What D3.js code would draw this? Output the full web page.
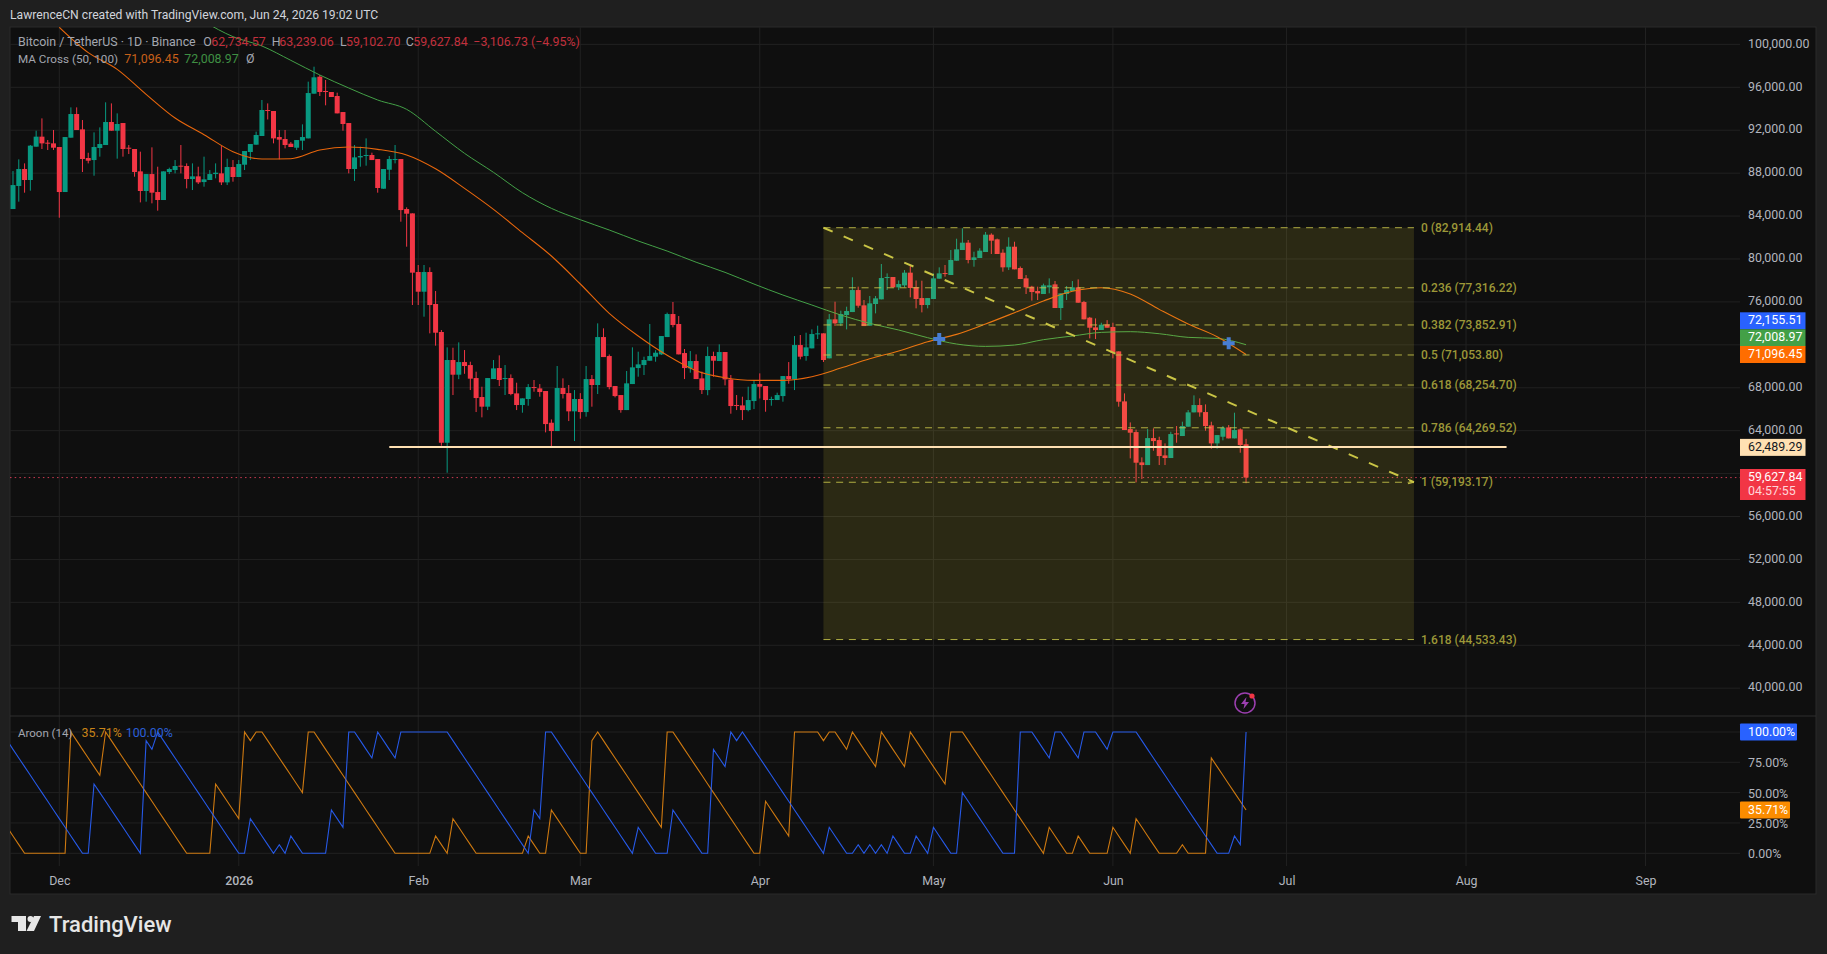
<!DOCTYPE html>
<html>
<head>
<meta charset="utf-8">
<script src="https://cdn.jsdelivr.net/npm/d3@7"></script>
<style>
    html, body { margin: 0; padding: 0; background: #1f1f1f; }
    svg { display: block; }
    text { font-family: Roboto, sans-serif; }
</style>
</head>
<body>
<script>
// daily candles, first one is Nov 23 2025
let candleStart = new Date(Date.UTC(2025, 10, 23));
let opens = [
    84655, 86800, 88385, 87360, 90465, 91400, 90840, 90775, 90435, 86240,
    91305, 93510, 92080, 89410, 89220, 90340, 90620, 92765, 91955, 92670,
    90370, 90250, 88165, 86335, 87915, 86240, 85495, 88105, 88290, 88695,
    88665, 87450, 87700, 87170, 87360, 87915, 87980, 87140, 88570, 87640,
    88785, 89970, 90650, 91460, 93885, 93790, 91365, 91180, 90745, 90370,
    91025, 91240, 95405, 96990, 95655, 95560, 95190, 93695, 92670, 88385,
    89470, 89625, 89690, 89315, 86550, 88320, 89255, 89315, 84655, 84250,
    78785, 76950, 78785, 75805, 73195, 62875, 70585, 69215, 70395, 70115,
    68905, 67135, 66235, 68810, 69835, 68845, 68905, 67475, 66390, 66950,
    68065, 67940, 67695, 64740, 63965, 67975, 67505, 65800, 66950, 65735,
    68810, 68255, 72725, 70955, 68160, 67320, 65920, 68345, 69835, 70115,
    70520, 70895, 71110, 72725, 74870, 73940, 71235, 69805, 70490, 68875,
    67785, 70955, 70490, 71330, 68780, 66390, 66355, 65920, 66760, 68345,
    68160, 66885, 66855, 67225, 69090, 68780, 71980, 70955, 71670, 72975,
    73070, 70740, 74375, 74000, 74775, 75055, 77105, 75680, 73785, 75805,
    76240, 78225, 78320, 77355, 77540, 78725, 77385, 76360, 75710, 76270,
    78165, 78690, 78505, 79840, 80835, 81520, 79905, 80090, 80650, 82265,
    81830, 80585, 79220, 81145, 79160, 78195, 77420, 77015, 76735, 77360,
    77635, 75430, 76735, 77015, 77355, 75990, 74530, 73625, 73380, 73905,
    73660, 71390, 66730, 64150, 63870, 61045, 60795, 63310, 63125, 61695,
    61450, 63745, 63500, 64370, 65705, 66390, 65735, 64495, 62815, 63435,
    64305, 63280, 64120, 62734.57
];
let highs = [
    88195, 89285, 88910, 90620, 91955, 93105, 91090, 92020, 90435, 91365,
    94130, 94130, 92950, 89900, 91800, 92265, 94600, 94500, 93570, 92670,
    90620, 90250, 90000, 87915, 90405, 88600, 88165, 88510, 89220, 90620,
    88910, 88910, 88600, 89535, 88290, 88910, 90525, 89345, 89220, 89220,
    90060, 90715, 91865, 94815, 94500, 93790, 92020, 92020, 90900, 91085,
    92545, 96525, 97920, 97145, 96680, 95560, 95500, 93695, 92670, 90620,
    90465, 91240, 89905, 89315, 88385, 89595, 90620, 89315, 84810, 84250,
    79440, 79440, 79220, 77015, 73380, 71765, 71730, 72230, 71515, 70425,
    69495, 68095, 68905, 70585, 71020, 70115, 69245, 68470, 67010, 68345,
    68720, 68345, 67695, 65050, 70025, 68875, 68255, 67785, 67500, 70025,
    69185, 74000, 73535, 71100, 68160, 67320, 69560, 71765, 71360, 70895,
    73940, 71500, 72820, 75000, 75990, 74685, 71610, 71420, 71110, 69500,
    71825, 71360, 72045, 71330, 69185, 67320, 67165, 68095, 68655, 69340,
    68160, 67165, 67540, 69090, 70395, 72820, 72915, 73130, 73440, 73785,
    73070, 74870, 76020, 75180, 75555, 78290, 77420, 76175, 76550, 76550,
    79530, 78660, 78320, 78000, 78970, 79345, 78000, 77975, 76360, 78660,
    79220, 79440, 80835, 81890, 82855, 81770, 80680, 81000, 82515, 82390,
    81900, 80900, 82015, 81610, 79300, 78505, 77500, 77420, 77700, 78195,
    77945, 76800, 77480, 77945, 78100, 76100, 74600, 74465, 74060, 74300,
    74060, 71390, 67475, 64770, 64100, 61510, 64150, 64215, 63435, 62815,
    63900, 64430, 64835, 65920, 67290, 67010, 66450, 64835, 63590, 64430,
    64525, 65675, 64215, 63239.06
];
let lows = [
    84655, 85340, 86180, 86365, 90465, 90250, 90155, 90155, 83845, 86240,
    91305, 92020, 88105, 88910, 87760, 89535, 90620, 91955, 89350, 89535,
    89780, 87670, 85275, 85340, 85185, 84500, 85495, 87915, 87980, 87980,
    86580, 86425, 86985, 86735, 87360, 87515, 86890, 86890, 87205, 87640,
    88290, 89220, 90650, 91460, 93000, 90775, 89285, 90310, 90435, 90155,
    90155, 91240, 95405, 95190, 94320, 95095, 93570, 91955, 87980, 87265,
    88600, 88695, 89220, 86180, 86550, 87360, 88910, 83475, 81145, 75710,
    75710, 74620, 73070, 71920, 62600, 60080, 67320, 68800, 69300, 67785,
    65735, 65240, 65920, 68810, 68160, 67320, 67300, 65920, 65675, 66325,
    67630, 67165, 63840, 62565, 63965, 67000, 64895, 63035, 65115, 65300,
    66235, 67415, 70860, 67850, 67105, 65675, 65920, 68345, 69030, 69185,
    70520, 70425, 71050, 72725, 73630, 71110, 68810, 69400, 68810, 67415,
    67300, 69030, 70490, 68220, 65580, 65920, 64990, 65800, 66015, 67000,
    65765, 66325, 66855, 66700, 68375, 67785, 70650, 70520, 71670, 72540,
    70400, 70740, 73750, 73750, 73440, 75055, 75460, 73750, 73785, 74930,
    76240, 77105, 77355, 77100, 77355, 76425, 75400, 75025, 75400, 76270,
    78165, 78350, 78505, 79840, 80835, 79595, 79280, 80090, 80650, 80465,
    80465, 78815, 78970, 79035, 78130, 76735, 76115, 76175, 76735, 76800,
    75430, 74310, 76175, 77015, 75925, 74370, 72600, 72540, 73380, 73595,
    70740, 66235, 64060, 61415, 59180, 59490, 60795, 62130, 60795, 60795,
    61450, 62875, 63500, 64370, 65705, 65300, 63995, 62320, 62320, 63100,
    63280, 63280, 61945, 59102.70
];
let closes = [
    86890, 88385, 87360, 90560, 91400, 90775, 90745, 90370, 86240, 91365,
    93510, 92020, 89315, 89160, 90435, 90715, 92765, 91955, 92580, 90250,
    90310, 88105, 86335, 87915, 86180, 85495, 88165, 88385, 88665, 88630,
    87450, 87700, 87140, 87420, 87915, 88040, 87140, 88570, 87640, 88850,
    90060, 90715, 91555, 93885, 93790, 91240, 91120, 90620, 90435, 91085,
    91365, 95465, 96930, 95560, 95560, 95095, 93570, 92580, 88385, 89470,
    89595, 89690, 89220, 86615, 88385, 89315, 89315, 84560, 84220, 78725,
    76950, 78785, 75710, 73130, 62875, 70585, 69215, 70395, 70025, 68845,
    67040, 66235, 68905, 69805, 68720, 68905, 67415, 66390, 67010, 68065,
    68005, 67600, 64615, 63965, 67975, 67415, 65800, 66950, 65735, 68810,
    68255, 72725, 70860, 68065, 67225, 65920, 68410, 69900, 70180, 70585,
    70955, 71265, 72820, 74870, 73845, 71110, 69835, 70490, 68810, 67785,
    70955, 70520, 71330, 68780, 66295, 66325, 65920, 66855, 68345, 68095,
    66855, 66950, 67320, 69090, 68780, 71980, 70895, 71765, 73005, 73070,
    70585, 74375, 74000, 74870, 75150, 77105, 75645, 73750, 75865, 76330,
    78225, 78320, 77355, 77665, 78725, 77295, 76270, 75710, 76360, 78195,
    78660, 78600, 79905, 80900, 81520, 79905, 80150, 80775, 82265, 81705,
    80465, 79220, 81145, 79035, 78135, 77355, 76920, 76795, 77540, 77540,
    75430, 76795, 77105, 77355, 75925, 74375, 73595, 73380, 73875, 73595,
    71265, 66700, 64060, 63810, 61015, 60795, 63310, 63030, 61635, 61450,
    63685, 63655, 64430, 65705, 66390, 65705, 64430, 62815, 63590, 64275,
    63280, 64060, 62660, 59627.84
];

// moving averages, read every 5th day
let ma50Days = [
    0, 5, 10, 15, 20, 25, 30, 35, 40, 45, 50, 55, 60, 65, 70, 75, 80, 85, 90, 95, 100,
    105, 110, 115, 120, 125, 130, 135, 140, 145, 150, 155, 160, 165, 170, 175, 180, 185, 190, 195, 200, 205
];
let ma50 = [
    101590, 99230, 97670, 95345, 93135, 91585, 90000, 89315, 89345, 90155, 90435, 90215, 89690, 88400, 86580,
    84625, 82450, 80275, 77670, 74935, 72820, 71020, 69590, 68935, 68685, 68685, 69030, 69835, 70705, 71430,
    72290, 72975, 73940, 74995, 76080, 76985, 77325, 76735, 75305, 73940, 72755, 71096.45
];
let ma100Days = [
    25, 30, 35, 40, 45, 50, 55, 60, 65, 70, 75, 80, 85, 90, 95, 100,
    105, 110, 115, 120, 125, 130, 135, 140, 145, 150, 155, 160, 165, 170, 175, 180, 185, 190, 195, 200, 205
];
let ma100 = [
    102120, 100720, 99850, 98510, 97145, 95935, 94815, 93945, 91900, 89845, 88075, 86180, 84720, 83660, 82700, 81675,
    80740, 79700, 78755, 77665, 76640, 75710, 74775, 74000, 73380, 72665, 72075, 71855, 71980, 72480, 72820,
    73160, 73225, 73035, 72695, 72600, 72008.97
];
let crossDays = [152, 202];
let crossPrices = [72540, 72155.51];

// aroon, one value a day, first one is Nov 22 2025
let aroonStart = new Date(Date.UTC(2025, 10, 22));
let aroonDown = [
    92.86, 85.71, 78.57, 71.43, 64.29, 57.14, 50, 42.86, 35.71, 28.57, 21.43, 14.29, 7.14, 0, 0,
    57.14, 50, 42.86, 35.71, 28.57, 21.43, 14.29, 7.14, 0,
    92.86, 85.71, 100, 92.86, 85.71, 78.57, 71.43, 64.29, 57.14, 50, 42.86, 35.71, 28.57, 21.43, 14.29, 7.14, 0, 0,
    28.57, 21.43, 14.29, 7.14, 0, 7.14, 0, 14.29, 7.14, 0, 0, 0, 0, 0,
    35.71, 28.57, 21.43, 100, 100, 92.86, 85.71, 78.57, 100, 92.86, 85.71, 78.57, 100, 100, 100, 100, 100, 100, 100, 100, 100,
    92.86, 85.71, 78.57, 71.43, 64.29, 57.14, 50, 42.86, 35.71, 28.57, 21.43, 14.29, 7.14, 0,
    35.71, 28.57, 100, 100, 92.86, 85.71, 78.57, 71.43, 64.29, 57.14, 50, 42.86, 35.71, 28.57, 21.43, 14.29, 7.14, 0,
    21.43, 14.29, 7.14, 0, 0, 0,
    35.71, 28.57, 21.43, 14.29, 7.14, 0, 0,
    85.71, 78.57, 71.43, 100, 92.86, 100,
    92.86, 85.71, 78.57, 71.43, 64.29, 57.14, 50, 42.86, 35.71, 28.57, 21.43, 14.29, 7.14, 0,
    21.43, 14.29, 7.14, 0, 0, 7.14, 0, 7.14, 0, 7.14, 0, 14.29, 7.14, 0, 0, 14.29, 7.14, 0, 21.43, 14.29, 7.14, 0, 0,
    50, 42.86, 35.71, 28.57, 21.43, 14.29, 7.14, 0, 0, 0,
    100, 100, 100, 92.86, 85.71, 78.57, 100, 100, 92.86, 85.71, 78.57, 100, 100, 100, 92.86, 85.71, 100, 100, 100, 100, 100,
    92.86, 85.71, 78.57, 71.43, 64.29, 57.14, 50, 42.86, 35.71, 28.57, 21.43, 14.29, 7.14, 0, 0, 0,
    14.29, 7.14, 100
];
let aroonUp = [
    21.43, 14.29, 7.14, 0, 0, 0, 0, 0, 0, 0, 0,
    100, 92.86, 85.71, 78.57, 71.43, 64.29,
    100, 92.86, 85.71, 78.57, 71.43, 64.29, 57.14, 50, 42.86, 35.71, 28.57, 21.43, 14.29, 7.14, 0, 0, 0, 0, 0,
    57.14, 50, 42.86, 35.71, 28.57, 100, 92.86, 100, 100, 92.86, 85.71, 78.57, 71.43, 64.29, 57.14, 50,
    100, 100, 92.86, 85.71, 78.57, 71.43, 64.29, 57.14, 50, 42.86, 35.71, 28.57, 21.43, 14.29, 7.14, 0, 0, 0, 0, 0, 0, 0,
    14.29, 7.14, 0, 28.57, 21.43, 14.29, 7.14, 0, 0, 0, 0, 0, 0, 0, 0, 0,
    14.29, 7.14, 0, 0, 35.71, 28.57, 21.43, 14.29, 7.14, 0, 0,
    92.86, 100, 92.86, 85.71, 78.57, 71.43, 64.29, 57.14, 50, 42.86, 35.71, 28.57, 21.43,
    100, 100, 92.86, 85.71, 78.57, 71.43, 64.29, 57.14, 50, 42.86, 35.71, 28.57, 21.43, 14.29, 7.14, 0, 0,
    42.86, 35.71, 28.57, 21.43, 14.29, 100, 100, 100, 100, 100, 92.86, 100, 100, 92.86, 85.71, 100,
    92.86, 85.71, 78.57, 71.43, 100, 92.86, 85.71, 78.57, 71.43, 100, 92.86, 85.71, 78.57, 71.43, 64.29, 57.14, 100, 100, 100,
    92.86, 85.71, 78.57, 71.43, 64.29, 57.14, 50, 42.86, 35.71, 28.57, 21.43, 14.29, 7.14, 0,
    21.43, 14.29, 7.14, 0, 0, 14.29, 7.14, 0, 0, 0, 0, 21.43, 14.29, 7.14, 0,
    28.57, 21.43, 14.29, 7.14, 0, 0, 0, 0, 7.14, 0, 0, 0, 0,
    78.57, 71.43, 64.29, 57.14, 50, 42.86, 35.71
];

// fib tool and the other drawings
let fibRatios = ["0", "0.236", "0.382", "0.5", "0.618", "0.786", "1", "1.618"];
let fibPrices = [82914.44, 77316.22, 73852.91, 71053.80, 68254.70, 64269.52, 59193.17, 44533.43];
let fibStartDay = 132;
let fibEndDay = 234;
let supportPrice = 62489.29;
let supportStartDay = 57;
let supportEndDay = 250;
let lastPrice = 59627.84;

// axes
let priceTicks = [100000, 96000, 92000, 88000, 84000, 80000, 76000, 72000, 68000, 64000, 60000, 56000, 52000, 48000, 44000, 40000];
let hiddenPriceLabels = [72000, 60000];
let aroonTicks = [0, 25, 50, 75, 100];
let monthDates = [[2025, 11], [2026, 0], [2026, 1], [2026, 2], [2026, 3], [2026, 4], [2026, 5], [2026, 6], [2026, 7], [2026, 8]];
let monthLabels = ["Dec", "2026", "Feb", "Mar", "Apr", "May", "Jun", "Jul", "Aug", "Sep"];

// price tags on the right
let tagValues = ["72,155.51", "72,008.97", "71,096.45", "62,489.29"];
let tagPrices = [72155.51, 72008.97, 71096.45, 62489.29];
let tagFills = ["#2962ff", "#43a047", "#ff6d00", "#ffe0b2"];
let tagInks = ["#ffffff", "#ffffff", "#ffffff", "#131722"];

const bg = "#0f0f0f", frame = "#1f1f1f", edge = "#2b2b2b", grid = "#212121";
const up = "#089981", down = "#f23645";
const paneLeft = 10, axisLeft = 1740, paneRight = 1816;
const paneTop = 27, paneSplit = 716, paneBottom = 894;
const tickSize = "12.4px";

let dec1 = new Date(Date.UTC(2025, 11, 1));
let dayDate = (d) => d3.utcDay.offset(dec1, d);

let x = d3.scaleUtc()
    .domain([dec1, new Date(Date.UTC(2026, 8, 1))])
    .range([59.3, 1645.5]);
let y = d3.scaleLinear().domain([96000, 40000]).range([87.3, 688.2]);
let yA = d3.scaleLinear().domain([0, 100]).range([853.3, 732]);

let svg = d3.select("body").append("svg")
    .attr("width", 1827)
    .attr("height", 954);

svg.append("rect").attr("width", 1827).attr("height", 954).attr("fill", frame);
svg.append("rect")
    .attr("x", paneLeft).attr("y", paneTop)
    .attr("width", paneRight - paneLeft).attr("height", paneBottom - paneTop)
    .attr("fill", bg).attr("stroke", edge);

let defs = svg.append("defs");
defs.append("clipPath").attr("id", "mainClip").append("rect")
    .attr("x", paneLeft).attr("y", paneTop)
    .attr("width", axisLeft - paneLeft).attr("height", paneSplit - paneTop);
defs.append("clipPath").attr("id", "aroonClip").append("rect")
    .attr("x", paneLeft).attr("y", paneSplit)
    .attr("width", axisLeft - paneLeft).attr("height", paneBottom - paneSplit);

// grid
let monthTicks = monthDates.map((m) => new Date(Date.UTC(m[0], m[1], 1)));
svg.append("g").selectAll("line").data(monthTicks).join("line")
    .attr("x1", (d) => x(d)).attr("x2", (d) => x(d))
    .attr("y1", paneTop).attr("y2", 866)
    .attr("stroke", grid);
svg.append("g").selectAll("line").data(priceTicks).join("line")
    .attr("x1", paneLeft).attr("x2", axisLeft)
    .attr("y1", (d) => y(d)).attr("y2", (d) => y(d))
    .attr("stroke", grid);
svg.append("g").selectAll("line").data(aroonTicks).join("line")
    .attr("x1", paneLeft).attr("x2", axisLeft)
    .attr("y1", (d) => yA(d)).attr("y2", (d) => yA(d))
    .attr("stroke", grid);
svg.append("line")
    .attr("x1", paneLeft).attr("x2", paneRight)
    .attr("y1", paneSplit).attr("y2", paneSplit)
    .attr("stroke", "#2e2e2e");

// axes
let styleAxis = (g) => {
    g.select(".domain").remove();
    g.selectAll("text").attr("fill", "#b2b5be").style("font-size", tickSize);
};
svg.append("g").attr("transform", `translate(${axisLeft},-1.2)`)
    .call(d3.axisRight(y).tickValues(priceTicks).tickSize(0).tickPadding(8).tickFormat(d3.format(",.2f")))
    .call(styleAxis)
    .call((g) => g.selectAll(".tick").filter((d) => hiddenPriceLabels.includes(d)).select("text").remove());
svg.append("g").attr("transform", `translate(${axisLeft},0.4)`)
    .call(d3.axisRight(yA).tickValues(aroonTicks).tickSize(0).tickPadding(8).tickFormat((d) => d3.format(".2f")(d) + "%"))
    .call(styleAxis);
svg.append("g").attr("transform", "translate(0,870.5)")
    .call(d3.axisBottom(x).tickValues(monthTicks).tickSize(0).tickPadding(6).tickFormat((d, i) => monthLabels[i]))
    .call(styleAxis)
    .call((g) => g.selectAll("text").filter((d, i) => i === 1).style("font-weight", "500"));

let main = svg.append("g").attr("clip-path", "url(#mainClip)");

// last price line
main.append("line")
    .attr("x1", paneLeft).attr("x2", axisLeft)
    .attr("y1", y(lastPrice)).attr("y2", y(lastPrice))
    .attr("stroke", "#e0405a").attr("stroke-opacity", 0.9)
    .attr("stroke-dasharray", "1.5,3.2");

// candles
let candles = opens.map((o, i) => ({
    date: d3.utcDay.offset(candleStart, i),
    open: o, high: highs[i], low: lows[i], close: closes[i]
}));
let candleColor = (d) => d.close >= d.open ? up : down;
main.append("g").selectAll("line").data(candles).join("line")
    .attr("x1", (d) => x(d.date)).attr("x2", (d) => x(d.date))
    .attr("y1", (d) => y(d.high)).attr("y2", (d) => y(d.low))
    .attr("stroke", candleColor);
main.append("g").selectAll("rect").data(candles).join("rect")
    .attr("x", (d) => x(d.date) - 2.5)
    .attr("width", 5)
    .attr("y", (d) => y(Math.max(d.open, d.close)))
    .attr("height", (d) => Math.max(1, Math.abs(y(d.open) - y(d.close))))
    .attr("fill", candleColor);

// moving averages
let maLine = d3.line()
    .x((d) => x(dayDate(d[0])))
    .y((d) => y(d[1]))
    .curve(d3.curveMonotoneX);
main.append("path")
    .attr("d", maLine(ma100Days.map((d, i) => [d, ma100[i]])))
    .attr("fill", "none").attr("stroke", "#43a047").attr("stroke-width", 1);
main.append("path")
    .attr("d", maLine(ma50Days.map((d, i) => [d, ma50[i]])))
    .attr("fill", "none").attr("stroke", "#e8660c").attr("stroke-width", 1.1);

// crosses
main.append("g").selectAll("path").data(crossDays).join("path")
    .attr("transform", (d, i) => `translate(${x(dayDate(d))},${y(crossPrices[i])})`)
    .attr("d", d3.symbol().type(d3.symbolCross).size(80))
    .attr("fill", "#2f6ee8");

// fib box goes over the candles
let fibX1 = x(dayDate(fibStartDay)), fibX2 = x(dayDate(fibEndDay));
main.append("rect")
    .attr("x", fibX1).attr("width", fibX2 - fibX1)
    .attr("y", y(fibPrices[0])).attr("height", y(fibPrices[7]) - y(fibPrices[0]))
    .attr("fill", "#ffeb3b").attr("fill-opacity", 0.117);
main.append("g").selectAll("line").data(fibPrices).join("line")
    .attr("x1", fibX1).attr("x2", fibX2)
    .attr("y1", (d) => y(d)).attr("y2", (d) => y(d))
    .attr("stroke", "#c9c64a").attr("stroke-opacity", 0.85)
    .attr("stroke-dasharray", "7,5.7");
main.append("line")
    .attr("x1", fibX1).attr("x2", fibX2)
    .attr("y1", y(fibPrices[0])).attr("y2", y(fibPrices[6]))
    .attr("stroke", "#c9c445").attr("stroke-width", 2)
    .attr("stroke-dasharray", "10,12");
main.append("path")
    .attr("d", `M${fibX2 - 6},${y(fibPrices[6]) - 3}L${fibX2},${y(fibPrices[6])}L${fibX2 - 6},${y(fibPrices[6]) + 1.5}`)
    .attr("fill", "none").attr("stroke", "#c9c445");
svg.append("g").selectAll("text").data(fibPrices).join("text")
    .attr("x", fibX2 + 7)
    .attr("y", (d) => y(d))
    .attr("dy", "0.35em")
    .attr("fill", "#9c9738")
    .style("font-size", "12px")
    .style("font-weight", "500")
    .text((d, i) => `${fibRatios[i]} (${d3.format(",.2f")(d)})`);

// support line
main.append("line")
    .attr("x1", x(dayDate(supportStartDay))).attr("x2", x(dayDate(supportEndDay)))
    .attr("y1", y(supportPrice)).attr("y2", y(supportPrice))
    .attr("stroke", "#ffe0b2").attr("stroke-width", 2);

// aroon
let aroonLine = d3.line()
    .x((d, i) => x(d3.utcDay.offset(aroonStart, i)))
    .y((d) => yA(d));
let aroonG = svg.append("g").attr("clip-path", "url(#aroonClip)");
aroonG.append("path").attr("d", aroonLine(aroonUp))
    .attr("fill", "none").attr("stroke", "#f08c10").attr("stroke-width", 1.1).attr("stroke-opacity", 0.85);
aroonG.append("path").attr("d", aroonLine(aroonDown))
    .attr("fill", "none").attr("stroke", "#2962ff").attr("stroke-width", 1.1).attr("stroke-opacity", 0.9);

// tags on the price axis
let tagTop = (i) => [312.3, 329.3, 346, y(tagPrices[3]) - 8][i];
let tags = svg.append("g");
tags.selectAll("rect").data(tagPrices).join("rect")
    .attr("x", axisLeft).attr("width", 65.5)
    .attr("y", (d, i) => tagTop(i))
    .attr("height", 17)
    .attr("fill", (d, i) => tagFills[i]);
tags.selectAll("text").data(tagValues).join("text")
    .attr("x", axisLeft + 8)
    .attr("y", (d, i) => tagTop(i) + 7.6)
    .attr("dy", "0.35em")
    .attr("fill", (d, i) => tagInks[i])
    .style("font-size", tickSize)
    .text((d) => d);
tags.append("rect")
    .attr("x", axisLeft).attr("y", 469).attr("width", 65.5).attr("height", 31)
    .attr("fill", down);
tags.append("text").attr("x", axisLeft + 8).attr("y", 476.8).attr("dy", "0.35em")
    .attr("fill", "#ffffff").style("font-size", tickSize).text(d3.format(",.2f")(lastPrice));
tags.append("text").attr("x", axisLeft + 8).attr("y", 490.8).attr("dy", "0.35em")
    .attr("fill", "#ffd5d9").style("font-size", tickSize).text("04:57:55");
tags.append("rect")
    .attr("x", axisLeft).attr("y", yA(100) - 8.5).attr("width", 57).attr("height", 17).attr("rx", 1)
    .attr("fill", "#2962ff");
tags.append("text").attr("x", axisLeft + 8).attr("y", yA(100)).attr("dy", "0.35em")
    .attr("fill", "#ffffff").style("font-size", tickSize).text("100.00%");
tags.append("rect")
    .attr("x", axisLeft).attr("y", yA(35.71) - 8.5).attr("width", 50).attr("height", 17).attr("rx", 1)
    .attr("fill", "#fb8c00");
tags.append("text").attr("x", axisLeft + 8).attr("y", yA(35.71)).attr("dy", "0.35em")
    .attr("fill", "#ffffff").style("font-size", tickSize).text("35.71%");

// header and legends
let label = (tx, ty, str, fill, size) => svg.append("text")
    .attr("x", tx).attr("y", ty).attr("dy", "0.35em")
    .attr("fill", fill).style("font-size", (size || 12.4) + "px").text(str);

label(10, 15, "LawrenceCN created with TradingView.com, Jun 24, 2026 19:02 UTC", "#d1d4dc", 12.15);

label(18, 41.5, "Bitcoin / TetherUS · 1D · Binance", "#a3a6af");
label(203.3, 41.5, "O", "#a3a6af");
label(211.3, 41.5, "62,734.57", "#c2303d");
label(271.7, 41.5, "H", "#a3a6af");
label(279.3, 41.5, "63,239.06", "#c2303d");
label(340, 41.5, "L", "#a3a6af");
label(346, 41.5, "59,102.70", "#c2303d");
label(405.7, 41.5, "C", "#a3a6af");
label(413.3, 41.5, "59,627.84", "#c2303d");
label(473.3, 41.5, "−3,106.73 (−4.95%)", "#c2303d");

label(18, 59, "MA Cross (50, 100)", "#a3a6af", 11.7);
label(124.3, 59, "71,096.45", "#c8601a");
label(184.3, 59, "72,008.97", "#3f8f43");
label(246, 59, "Ø", "#a3a6af");

label(18, 732.6, "Aroon (14)", "#a3a6af", 11.5);
label(81.6, 732.6, "35.71%", "#c98418");
label(125.7, 732.6, "100.00%", "#2b5fd9");

// bolt badge
let badge = svg.append("g").attr("transform", "translate(1245,703)");
badge.append("circle").attr("r", 10).attr("fill", "none").attr("stroke", "#9c3fb0").attr("stroke-width", 1.5);
badge.append("path").attr("d", "M1.5,-6L-4,1H-0.5L-1.5,6L4,-1H0.5Z").attr("fill", "#9c3fb0");
badge.append("circle").attr("cx", 7).attr("cy", -7).attr("r", 2.6).attr("fill", "#f23645");

// logo
let logo = svg.append("g").attr("fill", "#e6e6e6");
logo.append("path").attr("d", "M11.5,916H26V931H18V922H11.5Z");
logo.append("circle").attr("cx", 30.5).attr("cy", 919).attr("r", 3);
logo.append("path").attr("d", "M34,916H41L34,931H26.5Z");
logo.append("text").attr("x", 49).attr("y", 924).attr("dy", "0.35em")
    .attr("fill", "#e6e6e6").style("font-size", "22px").style("font-weight", "500").text("TradingView");
</script>
</body>
</html>
